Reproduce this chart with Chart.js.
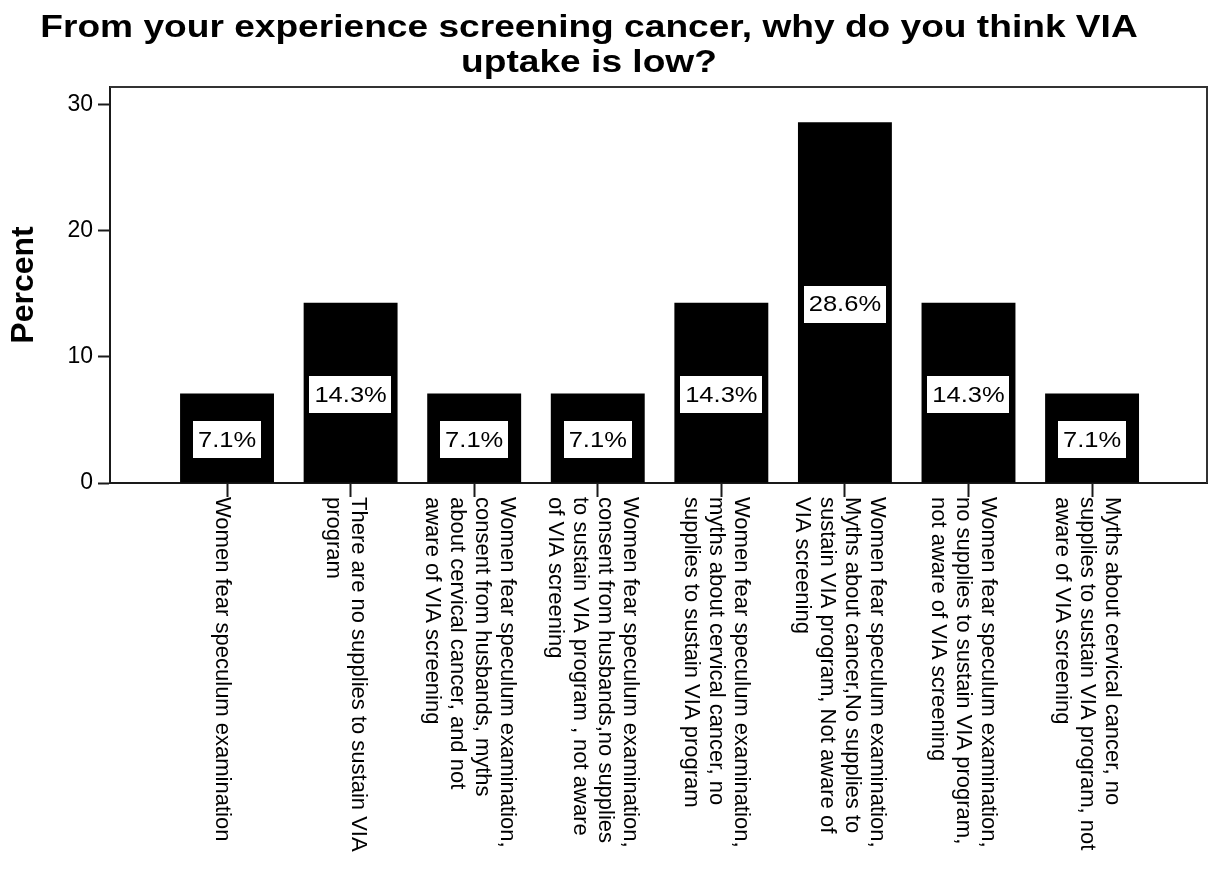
<!DOCTYPE html>
<html>
<head>
<meta charset="utf-8">
<script src="https://cdn.jsdelivr.net/npm/chart.js@4.4.1/dist/chart.umd.min.js"></script>
<style>
  html, body { margin: 0; padding: 0; background: #fff; }
  #wrap { width: 1211px; height: 884px; position: relative; }
</style>
</head>
<body>
<div id="wrap"><canvas id="c"></canvas></div>
<script>
// ---- data ----
const titleLines = ["From your experience screening cancer, why do you think VIA", "uptake is low?"];
const yAxisTitle = "Percent";
const categories = [
  ["Women fear speculum examination"],
  ["There are no supplies to sustain VIA", "program"],
  ["Women fear speculum examination,", "consent from husbands, myths", "about cervical cancer, and not", "aware of VIA screening"],
  ["Women fear speculum examination,", "consent from husbands,no supplies", "to sustain VIA program , not aware", "of VIA screening"],
  ["Women fear speculum examination,", "myths about cervical cancer, no", "supplies to sustain VIA program"],
  ["Women fear speculum examination,", "Myths about cancer,No supplies to", "sustain VIA program, Not aware of", "VIA screening"],
  ["Women fear speculum examination,", "no supplies to sustain VIA program,", "not aware of VIA screening"],
  ["Myths about cervical cancer, no", "supplies to sustain VIA program, not", "aware of VIA screening"]
];
const percentValues = [7.1, 14.3, 7.1, 7.1, 14.3, 28.6, 14.3, 7.1];
const yTicks = [0, 10, 20, 30];

// ---- chart ----
const FONT = "'Liberation Sans', Arial, Helvetica, sans-serif";
const AXIS_COLOR = '#1a1a1a';
const STRETCH = 1.16; // horizontal stretch of the reference's text

const points = percentValues.map((v, i) => ({ x: i, y: v }));

const titleDraw = {
  id: 'titleDraw',
  afterDraw(chart) {
    const { ctx } = chart;
    ctx.save();
    ctx.font = 'bold 32px ' + FONT;
    ctx.fillStyle = '#000';
    ctx.textAlign = 'center';
    ctx.textBaseline = 'alphabetic';
    const cx = 589;
    const baselines = [37, 72];
    titleLines.forEach((t, i) => {
      ctx.save();
      ctx.translate(cx, baselines[i]);
      ctx.scale(STRETCH, 1);
      ctx.fillText(t, 0, 0);
      ctx.restore();
    });
    ctx.restore();
  }
};

const frame = {
  id: 'frame',
  afterDraw(chart) {
    const { ctx, chartArea: a } = chart;
    ctx.save();
    ctx.strokeStyle = '#333';
    ctx.lineWidth = 2;
    ctx.beginPath();
    ctx.moveTo(a.left, a.top);
    ctx.lineTo(a.right, a.top);
    ctx.lineTo(a.right, a.bottom);
    ctx.stroke();
    ctx.restore();
  }
};

const valueLabels = {
  id: 'valueLabels',
  afterDatasetsDraw(chart) {
    const { ctx } = chart;
    const meta = chart.getDatasetMeta(0);
    ctx.save();
    ctx.font = '22px ' + FONT;
    ctx.textAlign = 'center';
    ctx.textBaseline = 'middle';
    meta.data.forEach((bar, i) => {
      const txt = percentValues[i].toFixed(1) + '%';
      const cx = bar.x;
      const cy = (bar.y + bar.base) / 2 + 2;
      const w = ctx.measureText(txt).width * STRETCH + 10;
      const h = 37;
      ctx.fillStyle = '#fff';
      ctx.fillRect(Math.round(cx - w / 2), Math.round(cy - h / 2), Math.round(w), h);
      ctx.fillStyle = '#000';
      ctx.save();
      ctx.translate(cx, cy + 1);
      ctx.scale(STRETCH, 1);
      ctx.fillText(txt, 0, 0);
      ctx.restore();
    });
    ctx.restore();
  }
};

const xLabels = {
  id: 'xLabels',
  afterDraw(chart) {
    const { ctx } = chart;
    const xs = chart.scales.x;
    const top = chart.chartArea.bottom + 14;
    const lh = 25;
    ctx.save();
    ctx.font = '22px ' + FONT;
    ctx.fillStyle = '#000';
    ctx.textAlign = 'left';
    ctx.textBaseline = 'middle';
    categories.forEach((lines, i) => {
      const px = xs.getPixelForValue(i) - 5;
      ctx.save();
      ctx.translate(px, top);
      ctx.rotate(Math.PI / 2);
      const n = lines.length;
      lines.forEach((ln, j) => {
        ctx.fillText(ln, 0, (j - (n - 1) / 2) * lh);
      });
      ctx.restore();
    });
    ctx.restore();
  }
};

new Chart(document.getElementById('c'), {
  type: 'bar',
  data: {
    datasets: [{
      data: points,
      backgroundColor: '#000',
      borderWidth: 0,
      categoryPercentage: 1,
      barPercentage: 0.76
    }]
  },
  options: {
    responsive: true,
    maintainAspectRatio: false,
    animation: false,
    layout: { padding: { left: 0, right: 4, top: 87, bottom: 0 } },
    plugins: {
      legend: { display: false },
      tooltip: { enabled: false },
      title: { display: false }
    },
    scales: {
      x: {
        type: 'linear',
        min: -0.947,
        max: 7.93,
        offset: false,
        border: { display: true, color: AXIS_COLOR, width: 2 },
        grid: { display: true, offset: false, drawOnChartArea: false, drawTicks: true, tickLength: 14, tickColor: AXIS_COLOR, tickWidth: 2 },
        ticks: { display: false, stepSize: 1, includeBounds: false },
        afterBuildTicks(scale) {
          scale.ticks = categories.map((_, i) => ({ value: i }));
        },
        afterFit(scale) { scale.height = 401; }
      },
      y: {
        type: 'linear',
        min: 0,
        max: 31.4,
        border: { display: true, color: AXIS_COLOR, width: 2 },
        grid: { display: true, drawOnChartArea: false, drawTicks: true, tickLength: 12, tickColor: AXIS_COLOR, tickWidth: 2 },
        ticks: {
          stepSize: 10,
          includeBounds: false,
          color: '#000',
          padding: 5,
          font: { family: FONT, size: 23 }
        },
        afterBuildTicks(scale) {
          scale.ticks = yTicks.map(v => ({ value: v }));
        },
        title: {
          display: true,
          text: yAxisTitle,
          color: '#000',
          font: { family: FONT, size: 32, weight: 'bold' },
          padding: { top: 5, bottom: 0 }
        },
        afterFit(scale) { scale.width = 110; }
      }
    }
  },
  plugins: [frame, valueLabels, xLabels, titleDraw]
});
</script>
</body>
</html>
